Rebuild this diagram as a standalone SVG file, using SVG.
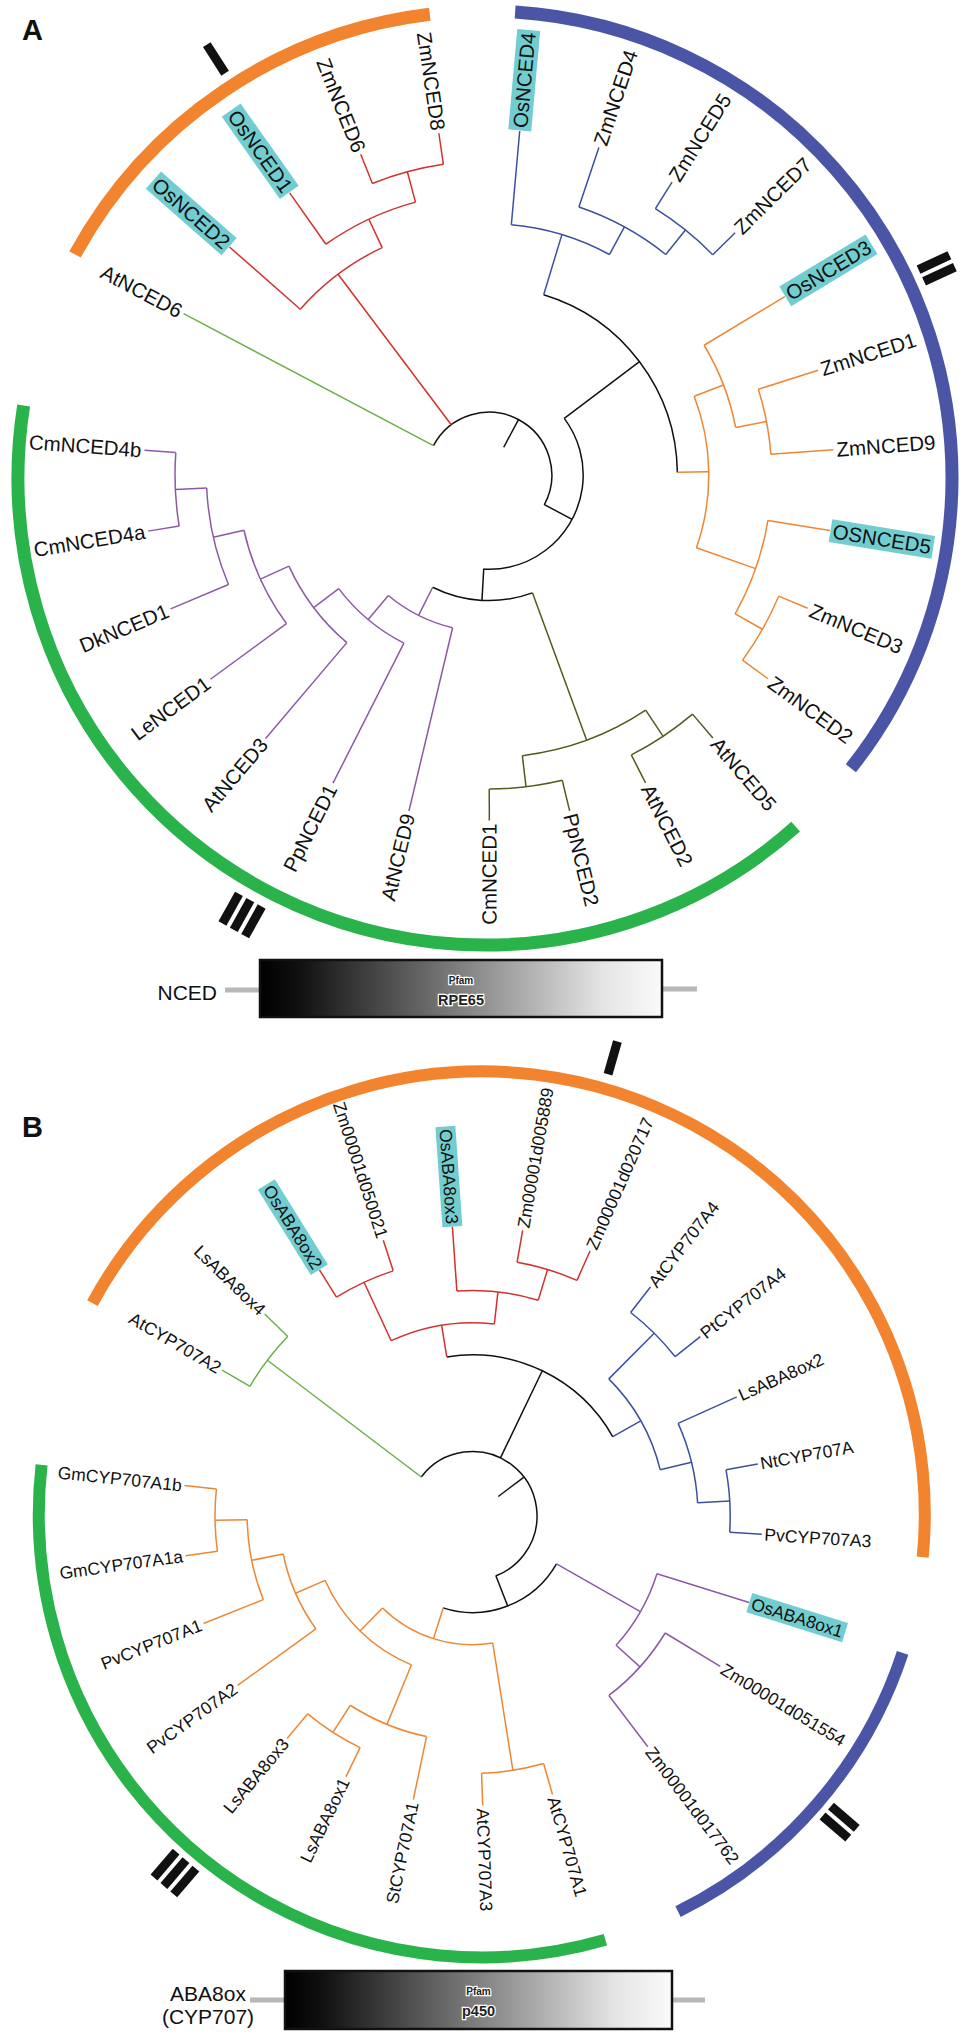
<svg xmlns="http://www.w3.org/2000/svg" width="965" height="2037" viewBox="0 0 965 2037">
<style>
.br{fill:none;stroke-width:1.5;stroke-linecap:butt}
.k{stroke:#111}.r{stroke:#d2312d}.b{stroke:#3d4f9f}.o{stroke:#ef8633}.ol{stroke:#57581f}.p{stroke:#8b5aa6}.g{stroke:#6bb04a}
.la{font-family:'Liberation Sans',Arial,sans-serif;font-size:20.5px;fill:#111}
.lb{font-family:'Liberation Sans',Arial,sans-serif;font-size:17.5px;fill:#111}
.e{text-anchor:end}
.hl{fill:#72cdd0}
.barA{fill:none;stroke-width:13}.barB{fill:none;stroke-width:12}
.mk{fill:#111}
.pl{font-family:'Liberation Sans',Arial,sans-serif;font-weight:bold;font-size:29px;fill:#111}
.dom{font-family:'Liberation Sans',Arial,sans-serif;font-size:21px;fill:#111}
.pf{font-family:'Liberation Sans',Arial,sans-serif;font-weight:bold;fill:#222;stroke:#fff;stroke-width:2.5;paint-order:stroke;text-anchor:middle}
.gl{stroke:#b8b8b8;stroke-width:5}
</style>
<defs>
<linearGradient id="gd" x1="0" x2="1" y1="0" y2="0">
<stop offset="0" stop-color="#000"/><stop offset="0.1" stop-color="#111"/><stop offset="0.5" stop-color="#808080"/><stop offset="0.85" stop-color="#e4e4e4"/><stop offset="1" stop-color="#fafafa"/>
</linearGradient>
</defs>
<rect width="965" height="2037" fill="#fff"/>

<text class="pl" x="22" y="40">A</text>
<text class="pl" x="22" y="1137">B</text>

<!-- Panel A clade bars -->
<g id="barsA" transform="translate(485 478)">
<circle class="barA" stroke="#f2842f" r="467" transform="rotate(208.6)" stroke-dasharray="445.03 4000"/>
<circle class="barA" stroke="#4b55a6" r="467" transform="rotate(-86.3)" stroke-dasharray="1016.39 4000"/>
<circle class="barA" stroke="#2ab24b" r="467" transform="rotate(48.3)" stroke-dasharray="1145.99 4000"/>
<g transform="rotate(-122.7)"><rect class="mk" x="481" y="-4.5" width="34" height="9"/></g>
<g transform="rotate(-24.9)"><rect class="mk" x="481" y="-11" width="34" height="9"/><rect class="mk" x="481" y="2" width="34" height="9"/></g>
<g transform="rotate(119.07)"><rect class="mk" x="483" y="-17.5" width="34" height="9"/><rect class="mk" x="483" y="-4.5" width="34" height="9"/><rect class="mk" x="483" y="8.5" width="34" height="9"/></g>
</g>

<!-- Panel A tree -->
<g id="connectorsA" transform="translate(489 475)">
<line class="br k" transform="rotate(-62.02)" x1="31.4" x2="62.8"/>
<line class="br k" transform="rotate(28.115)" x1="62.8" x2="94.2"/>
<line class="br k" transform="rotate(-36.98)" x1="94.2" x2="188.4"/>
<line class="br k" transform="rotate(93.21)" x1="94.2" x2="125.6"/>
<circle class="br k" r="62.8" transform="rotate(-152.15)" stroke-dasharray="197.58 3000"/>
<circle class="br k" r="94.2" transform="rotate(-36.98)" stroke-dasharray="214.05 3000"/>
<circle class="br k" r="188.4" transform="rotate(-73.13)" stroke-dasharray="237.72 3000"/>
<circle class="br k" r="125.6" transform="rotate(69.775)" stroke-dasharray="102.73 3000"/>
<line class="br g" transform="rotate(-152.15)" x1="62.8" x2="345.4"/>
<line class="br r" transform="rotate(-126.93)" x1="62.8" x2="251.2"/>
<line class="br r" transform="rotate(-138.7)" x1="251.2" x2="345.4"/>
<line class="br r" transform="rotate(-115.16)" x1="251.2" x2="282.6"/>
<line class="br r" transform="rotate(-125.25)" x1="282.6" x2="345.4"/>
<line class="br r" transform="rotate(-105.075)" x1="282.6" x2="314"/>
<line class="br r" transform="rotate(-111.8)" x1="314" x2="345.4"/>
<line class="br r" transform="rotate(-98.35)" x1="314" x2="345.4"/>
<circle class="br r" r="251.2" transform="rotate(-138.7)" stroke-dasharray="103.21 3000"/>
<circle class="br r" r="282.6" transform="rotate(-125.25)" stroke-dasharray="99.51 3000"/>
<circle class="br r" r="314" transform="rotate(-111.8)" stroke-dasharray="73.71 3000"/>
<line class="br b" transform="rotate(-73.13)" x1="188.4" x2="251.2"/>
<line class="br b" transform="rotate(-84.9)" x1="251.2" x2="345.4"/>
<line class="br b" transform="rotate(-61.36)" x1="251.2" x2="282.6"/>
<line class="br b" transform="rotate(-71.45)" x1="282.6" x2="345.4"/>
<line class="br b" transform="rotate(-51.275)" x1="282.6" x2="314"/>
<line class="br b" transform="rotate(-58)" x1="314" x2="345.4"/>
<line class="br b" transform="rotate(-44.55)" x1="314" x2="345.4"/>
<circle class="br b" r="251.2" transform="rotate(-84.9)" stroke-dasharray="103.21 3000"/>
<circle class="br b" r="282.6" transform="rotate(-71.45)" stroke-dasharray="99.51 3000"/>
<circle class="br b" r="314" transform="rotate(-58)" stroke-dasharray="73.71 3000"/>
<line class="br o" transform="rotate(-0.835)" x1="188.4" x2="219.8"/>
<line class="br o" transform="rotate(-21.01)" x1="219.8" x2="251.2"/>
<line class="br o" transform="rotate(-31.1)" x1="251.2" x2="345.4"/>
<line class="br o" transform="rotate(-10.925)" x1="251.2" x2="282.6"/>
<line class="br o" transform="rotate(-17.65)" x1="282.6" x2="345.4"/>
<line class="br o" transform="rotate(-4.2)" x1="282.6" x2="345.4"/>
<line class="br o" transform="rotate(19.34)" x1="219.8" x2="282.6"/>
<line class="br o" transform="rotate(9.25)" x1="282.6" x2="345.4"/>
<line class="br o" transform="rotate(29.425)" x1="282.6" x2="314"/>
<line class="br o" transform="rotate(22.7)" x1="314" x2="345.4"/>
<line class="br o" transform="rotate(36.15)" x1="314" x2="345.4"/>
<circle class="br o" r="219.8" transform="rotate(-21.01)" stroke-dasharray="154.79 3000"/>
<circle class="br o" r="251.2" transform="rotate(-31.1)" stroke-dasharray="88.45 3000"/>
<circle class="br o" r="282.6" transform="rotate(-17.65)" stroke-dasharray="66.34 3000"/>
<circle class="br o" r="282.6" transform="rotate(9.25)" stroke-dasharray="99.51 3000"/>
<circle class="br o" r="314" transform="rotate(22.7)" stroke-dasharray="73.71 3000"/>
<line class="br ol" transform="rotate(69.775)" x1="125.6" x2="282.6"/>
<line class="br ol" transform="rotate(56.325)" x1="282.6" x2="314"/>
<line class="br ol" transform="rotate(49.6)" x1="314" x2="345.4"/>
<line class="br ol" transform="rotate(63.05)" x1="314" x2="345.4"/>
<line class="br ol" transform="rotate(83.225)" x1="282.6" x2="314"/>
<line class="br ol" transform="rotate(76.5)" x1="314" x2="345.4"/>
<line class="br ol" transform="rotate(89.95)" x1="314" x2="345.4"/>
<circle class="br ol" r="282.6" transform="rotate(56.325)" stroke-dasharray="132.68 3000"/>
<circle class="br ol" r="314" transform="rotate(76.5)" stroke-dasharray="73.71 3000"/>
<circle class="br ol" r="314" transform="rotate(49.6)" stroke-dasharray="73.71 3000"/>
<line class="br p" transform="rotate(116.64)" x1="125.6" x2="157"/>
<line class="br p" transform="rotate(103.4)" x1="157" x2="345.4"/>
<line class="br p" transform="rotate(129.88)" x1="157" x2="188.4"/>
<line class="br p" transform="rotate(116.85)" x1="188.4" x2="345.4"/>
<line class="br p" transform="rotate(142.91)" x1="188.4" x2="219.8"/>
<line class="br p" transform="rotate(130.3)" x1="219.8" x2="345.4"/>
<line class="br p" transform="rotate(155.52)" x1="219.8" x2="251.2"/>
<line class="br p" transform="rotate(143.75)" x1="251.2" x2="345.4"/>
<line class="br p" transform="rotate(167.29)" x1="251.2" x2="282.6"/>
<line class="br p" transform="rotate(157.2)" x1="282.6" x2="345.4"/>
<line class="br p" transform="rotate(177.375)" x1="282.6" x2="314"/>
<line class="br p" transform="rotate(170.65)" x1="314" x2="345.4"/>
<line class="br p" transform="rotate(184.1)" x1="314" x2="345.4"/>
<circle class="br p" r="157" transform="rotate(103.4)" stroke-dasharray="72.56 3000"/>
<circle class="br p" r="188.4" transform="rotate(116.85)" stroke-dasharray="85.69 3000"/>
<circle class="br p" r="219.8" transform="rotate(130.3)" stroke-dasharray="96.75 3000"/>
<circle class="br p" r="251.2" transform="rotate(143.75)" stroke-dasharray="103.21 3000"/>
<circle class="br p" r="282.6" transform="rotate(157.2)" stroke-dasharray="99.51 3000"/>
<circle class="br p" r="314" transform="rotate(170.65)" stroke-dasharray="73.71 3000"/>
</g>

<g id="leavesA" transform="translate(489 475)">
<g id="AtNCED6" transform="rotate(207.85) translate(348.5 0) rotate(180)"><text class="la e" y="7.2">AtNCED6</text></g>
<g id="OsNCED2" transform="rotate(-138.7) translate(348.5 0) rotate(180)"><rect class="hl" x="-98.2" y="-11.5" width="100.7" height="23"/><text class="la e" y="7.2">OsNCED2</text></g>
<g id="OsNCED1" transform="rotate(-125.25) translate(348.5 0) rotate(180)"><rect class="hl" x="-98.2" y="-11.5" width="100.7" height="23"/><text class="la e" y="7.2">OsNCED1</text></g>
<g id="ZmNCED6" transform="rotate(-111.8) translate(348.5 0) rotate(180)"><text class="la e" y="7.2">ZmNCED6</text></g>
<g id="ZmNCED8" transform="rotate(-98.35) translate(348.5 0) rotate(180)"><text class="la e" y="7.2">ZmNCED8</text></g>
<g id="OsNCED4" transform="rotate(-84.9) translate(348.5 0)"><rect class="hl" x="-2.5" y="-11.5" width="100.7" height="23"/><text class="la" y="7.2">OsNCED4</text></g>
<g id="ZmNCED4" transform="rotate(-71.45) translate(348.5 0)"><text class="la" y="7.2">ZmNCED4</text></g>
<g id="ZmNCED5" transform="rotate(-58) translate(348.5 0)"><text class="la" y="7.2">ZmNCED5</text></g>
<g id="ZmNCED7" transform="rotate(-44.55) translate(348.5 0)"><text class="la" y="7.2">ZmNCED7</text></g>
<g id="OsNCED3" transform="rotate(-31.1) translate(348.5 0)"><rect class="hl" x="-2.5" y="-11.5" width="100.7" height="23"/><text class="la" y="7.2">OsNCED3</text></g>
<g id="ZmNCED1" transform="rotate(-17.65) translate(348.5 0)"><text class="la" y="7.2">ZmNCED1</text></g>
<g id="ZmNCED9" transform="rotate(-4.2) translate(348.5 0)"><text class="la" y="7.2">ZmNCED9</text></g>
<g id="OSNCED5" transform="rotate(9.25) translate(348.5 0)"><rect class="hl" x="-2.5" y="-11.5" width="104.1" height="23"/><text class="la" y="7.2">OSNCED5</text></g>
<g id="ZmNCED3" transform="rotate(22.7) translate(348.5 0)"><text class="la" y="7.2">ZmNCED3</text></g>
<g id="ZmNCED2" transform="rotate(36.15) translate(348.5 0)"><text class="la" y="7.2">ZmNCED2</text></g>
<g id="AtNCED5" transform="rotate(49.6) translate(348.5 0)"><text class="la" y="7.2">AtNCED5</text></g>
<g id="AtNCED2" transform="rotate(63.05) translate(348.5 0)"><text class="la" y="7.2">AtNCED2</text></g>
<g id="PpNCED2" transform="rotate(76.5) translate(348.5 0)"><text class="la" y="7.2">PpNCED2</text></g>
<g id="CmNCED1" transform="rotate(89.95) translate(348.5 0) rotate(180)"><text class="la e" y="7.2">CmNCED1</text></g>
<g id="AtNCED9" transform="rotate(103.4) translate(348.5 0) rotate(180)"><text class="la e" y="7.2">AtNCED9</text></g>
<g id="PpNCED1" transform="rotate(116.85) translate(348.5 0) rotate(180)"><text class="la e" y="7.2">PpNCED1</text></g>
<g id="AtNCED3" transform="rotate(130.3) translate(348.5 0) rotate(180)"><text class="la e" y="7.2">AtNCED3</text></g>
<g id="LeNCED1" transform="rotate(143.75) translate(348.5 0) rotate(180)"><text class="la e" y="7.2">LeNCED1</text></g>
<g id="DkNCED1" transform="rotate(157.2) translate(348.5 0) rotate(180)"><text class="la e" y="7.2">DkNCED1</text></g>
<g id="CmNCED4a" transform="rotate(170.65) translate(348.5 0) rotate(180)"><text class="la e" y="7.2">CmNCED4a</text></g>
<g id="CmNCED4b" transform="rotate(184.1) translate(348.5 0) rotate(180)"><text class="la e" y="7.2">CmNCED4b</text></g>
</g>

<!-- Domain A -->
<g id="domainA">
<line class="gl" x1="225" y1="990" x2="261" y2="990"/>
<line class="gl" x1="662" y1="989" x2="697" y2="989"/>
<rect x="260" y="960" width="402" height="57" fill="url(#gd)" stroke="#111" stroke-width="2.5"/>
<text class="pf" x="461" y="984" font-size="10">Pfam</text>
<text class="pf" x="461" y="1005" font-size="14.5">RPE65</text>
<text class="dom e" x="217" y="1000">NCED</text>
</g>

<!-- Panel B clade bars -->
<g id="barsB" transform="translate(481.8 1514.4)">
<circle class="barB" stroke="#f2842f" r="443" transform="rotate(208.5)" stroke-dasharray="1213.9 4000"/>
<circle class="barB" stroke="#4b55a6" r="443" transform="rotate(18.2)" stroke-dasharray="351.8 4000"/>
<circle class="barB" stroke="#2ab24b" r="443" transform="rotate(73.8)" stroke-dasharray="870.6 4000"/>
<g transform="rotate(-74)"><rect class="mk" x="458" y="-4.5" width="34" height="9"/></g>
<g transform="rotate(40.7)"><rect class="mk" x="455" y="-11" width="34" height="9"/><rect class="mk" x="455" y="2" width="34" height="9"/></g>
<g transform="rotate(130.55)"><rect class="mk" x="455" y="-17.5" width="34" height="9"/><rect class="mk" x="455" y="-4.5" width="34" height="9"/><rect class="mk" x="455" y="8.5" width="34" height="9"/></g>
</g>

<!-- Panel B tree -->
<g id="connectorsB" transform="translate(472.6 1515.9)">
<line class="br k" transform="rotate(-37.06)" x1="32.2" x2="64.4"/>
<line class="br k" transform="rotate(-64.355)" x1="64.4" x2="161"/>
<line class="br k" transform="rotate(68.705)" x1="64.4" x2="96.6"/>
<circle class="br k" r="64.4" transform="rotate(-142.825)" stroke-dasharray="237.76 3000"/>
<circle class="br k" r="161" transform="rotate(-99.23)" stroke-dasharray="196 3000"/>
<circle class="br k" r="96.6" transform="rotate(29.725)" stroke-dasharray="131.44 3000"/>
<line class="br g" transform="rotate(-142.825)" x1="64.4" x2="257.6"/>
<line class="br g" transform="rotate(-149.8)" x1="257.6" x2="289.8"/>
<line class="br g" transform="rotate(-135.85)" x1="257.6" x2="289.8"/>
<circle class="br g" r="257.6" transform="rotate(-149.8)" stroke-dasharray="62.72 3000"/>
<line class="br r" transform="rotate(-99.23)" x1="161" x2="193.2"/>
<line class="br r" transform="rotate(-114.925)" x1="193.2" x2="257.6"/>
<line class="br r" transform="rotate(-121.9)" x1="257.6" x2="289.8"/>
<line class="br r" transform="rotate(-107.95)" x1="257.6" x2="289.8"/>
<line class="br r" transform="rotate(-83.54)" x1="193.2" x2="225.4"/>
<line class="br r" transform="rotate(-94)" x1="225.4" x2="289.8"/>
<line class="br r" transform="rotate(-73.075)" x1="225.4" x2="257.6"/>
<line class="br r" transform="rotate(-80.05)" x1="257.6" x2="289.8"/>
<line class="br r" transform="rotate(-66.1)" x1="257.6" x2="289.8"/>
<circle class="br r" r="193.2" transform="rotate(-114.925)" stroke-dasharray="105.83 3000"/>
<circle class="br r" r="257.6" transform="rotate(-121.9)" stroke-dasharray="62.72 3000"/>
<circle class="br r" r="225.4" transform="rotate(-94)" stroke-dasharray="82.32 3000"/>
<circle class="br r" r="257.6" transform="rotate(-80.05)" stroke-dasharray="62.72 3000"/>
<line class="br b" transform="rotate(-29.48)" x1="161" x2="193.2"/>
<line class="br b" transform="rotate(-45.175)" x1="193.2" x2="257.6"/>
<line class="br b" transform="rotate(-52.15)" x1="257.6" x2="289.8"/>
<line class="br b" transform="rotate(-38.2)" x1="257.6" x2="289.8"/>
<line class="br b" transform="rotate(-13.79)" x1="193.2" x2="225.4"/>
<line class="br b" transform="rotate(-24.25)" x1="225.4" x2="289.8"/>
<line class="br b" transform="rotate(-3.325)" x1="225.4" x2="257.6"/>
<line class="br b" transform="rotate(-10.3)" x1="257.6" x2="289.8"/>
<line class="br b" transform="rotate(3.65)" x1="257.6" x2="289.8"/>
<circle class="br b" r="193.2" transform="rotate(-45.175)" stroke-dasharray="105.83 3000"/>
<circle class="br b" r="257.6" transform="rotate(-52.15)" stroke-dasharray="62.72 3000"/>
<circle class="br b" r="225.4" transform="rotate(-24.25)" stroke-dasharray="82.32 3000"/>
<circle class="br b" r="257.6" transform="rotate(-10.3)" stroke-dasharray="62.72 3000"/>
<line class="br p" transform="rotate(29.725)" x1="96.6" x2="193.2"/>
<line class="br p" transform="rotate(17.4)" x1="193.2" x2="289.8"/>
<line class="br p" transform="rotate(42.05)" x1="193.2" x2="225.4"/>
<line class="br p" transform="rotate(31.3)" x1="225.4" x2="289.8"/>
<line class="br p" transform="rotate(52.8)" x1="225.4" x2="289.8"/>
<circle class="br p" r="193.2" transform="rotate(17.4)" stroke-dasharray="83.12 3000"/>
<circle class="br p" r="225.4" transform="rotate(31.3)" stroke-dasharray="84.58 3000"/>
<line class="br o" transform="rotate(107.685)" x1="96.6" x2="128.8"/>
<line class="br o" transform="rotate(81)" x1="128.8" x2="257.6"/>
<line class="br o" transform="rotate(74)" x1="257.6" x2="289.8"/>
<line class="br o" transform="rotate(88)" x1="257.6" x2="289.8"/>
<line class="br o" transform="rotate(134.37)" x1="128.8" x2="161"/>
<line class="br o" transform="rotate(112.325)" x1="161" x2="225.4"/>
<line class="br o" transform="rotate(101.8)" x1="225.4" x2="289.8"/>
<line class="br o" transform="rotate(122.85)" x1="225.4" x2="257.6"/>
<line class="br o" transform="rotate(115.9)" x1="257.6" x2="289.8"/>
<line class="br o" transform="rotate(129.8)" x1="257.6" x2="289.8"/>
<line class="br o" transform="rotate(156.41)" x1="161" x2="193.2"/>
<line class="br o" transform="rotate(144.2)" x1="193.2" x2="289.8"/>
<line class="br o" transform="rotate(168.625)" x1="193.2" x2="225.4"/>
<line class="br o" transform="rotate(158.2)" x1="225.4" x2="289.8"/>
<line class="br o" transform="rotate(179.05)" x1="225.4" x2="257.6"/>
<line class="br o" transform="rotate(172.1)" x1="257.6" x2="289.8"/>
<line class="br o" transform="rotate(186)" x1="257.6" x2="289.8"/>
<circle class="br o" r="128.8" transform="rotate(81)" stroke-dasharray="119.97 3000"/>
<circle class="br o" r="257.6" transform="rotate(74)" stroke-dasharray="62.94 3000"/>
<circle class="br o" r="161" transform="rotate(112.325)" stroke-dasharray="123.88 3000"/>
<circle class="br o" r="225.4" transform="rotate(101.8)" stroke-dasharray="82.81 3000"/>
<circle class="br o" r="257.6" transform="rotate(115.9)" stroke-dasharray="62.49 3000"/>
<circle class="br o" r="193.2" transform="rotate(144.2)" stroke-dasharray="82.36 3000"/>
<circle class="br o" r="225.4" transform="rotate(158.2)" stroke-dasharray="82.02 3000"/>
<circle class="br o" r="257.6" transform="rotate(172.1)" stroke-dasharray="62.49 3000"/>
</g>

<g id="leavesB" transform="translate(472.6 1515.9)">
<g id="AtCYP707A2" transform="rotate(210.2) translate(292.5 0) rotate(180)"><text class="lb e" y="6.1">AtCYP707A2</text></g>
<g id="LsABA8ox4" transform="rotate(-135.85) translate(292.5 0) rotate(180)"><text class="lb e" y="6.1">LsABA8ox4</text></g>
<g id="OsABA8ox2" transform="rotate(-121.9) translate(292.5 0) rotate(180)"><rect class="hl" x="-97.8" y="-10" width="100.3" height="20"/><text class="lb e" y="6.1">OsABA8ox2</text></g>
<g id="Zm00001d050021" transform="rotate(-107.95) translate(292.5 0) rotate(180)"><text class="lb e" y="6.1">Zm00001d050021</text></g>
<g id="OsABA8ox3" transform="rotate(-94) translate(292.5 0) rotate(180)"><rect class="hl" x="-97.8" y="-10" width="100.3" height="20"/><text class="lb e" y="6.1">OsABA8ox3</text></g>
<g id="Zm00001d005889" transform="rotate(-80.05) translate(292.5 0)"><text class="lb" y="6.1">Zm00001d005889</text></g>
<g id="Zm00001d020717" transform="rotate(-66.1) translate(292.5 0)"><text class="lb" y="6.1">Zm00001d020717</text></g>
<g id="AtCYP707A4" transform="rotate(-52.15) translate(292.5 0)"><text class="lb" y="6.1">AtCYP707A4</text></g>
<g id="PtCYP707A4" transform="rotate(-38.2) translate(292.5 0)"><text class="lb" y="6.1">PtCYP707A4</text></g>
<g id="LsABA8ox2" transform="rotate(-24.25) translate(292.5 0)"><text class="lb" y="6.1">LsABA8ox2</text></g>
<g id="NtCYP707A" transform="rotate(-10.3) translate(292.5 0)"><text class="lb" y="6.1">NtCYP707A</text></g>
<g id="PvCYP707A3" transform="rotate(3.65) translate(292.5 0)"><text class="lb" y="6.1">PvCYP707A3</text></g>
<g id="OsABA8ox1" transform="rotate(17.4) translate(292.5 0)"><rect class="hl" x="-2.5" y="-10" width="100.3" height="20"/><text class="lb" y="6.1">OsABA8ox1</text></g>
<g id="Zm00001d051554" transform="rotate(31.3) translate(292.5 0)"><text class="lb" y="6.1">Zm00001d051554</text></g>
<g id="Zm00001d017762" transform="rotate(52.8) translate(292.5 0)"><text class="lb" y="6.1">Zm00001d017762</text></g>
<g id="AtCYP707A1" transform="rotate(74) translate(292.5 0)"><text class="lb" y="6.1">AtCYP707A1</text></g>
<g id="AtCYP707A3" transform="rotate(88) translate(292.5 0)"><text class="lb" y="6.1">AtCYP707A3</text></g>
<g id="StCYP707A1" transform="rotate(101.8) translate(292.5 0) rotate(180)"><text class="lb e" y="6.1">StCYP707A1</text></g>
<g id="LsABA8ox1" transform="rotate(115.9) translate(292.5 0) rotate(180)"><text class="lb e" y="6.1">LsABA8ox1</text></g>
<g id="LsABA8ox3" transform="rotate(129.8) translate(292.5 0) rotate(180)"><text class="lb e" y="6.1">LsABA8ox3</text></g>
<g id="PvCYP707A2" transform="rotate(144.2) translate(292.5 0) rotate(180)"><text class="lb e" y="6.1">PvCYP707A2</text></g>
<g id="PvCYP707A1" transform="rotate(158.2) translate(292.5 0) rotate(180)"><text class="lb e" y="6.1">PvCYP707A1</text></g>
<g id="GmCYP707A1a" transform="rotate(172.1) translate(292.5 0) rotate(180)"><text class="lb e" y="6.1">GmCYP707A1a</text></g>
<g id="GmCYP707A1b" transform="rotate(186) translate(292.5 0) rotate(180)"><text class="lb e" y="6.1">GmCYP707A1b</text></g>
</g>

<!-- Domain B -->
<g id="domainB">
<line class="gl" x1="250" y1="2000" x2="286" y2="2000"/>
<line class="gl" x1="672" y1="2000" x2="705" y2="2000"/>
<rect x="285" y="1971" width="387" height="58" fill="url(#gd)" stroke="#111" stroke-width="2.5"/>
<text class="pf" x="478.5" y="1995" font-size="10">Pfam</text>
<text class="pf" x="478.5" y="2016" font-size="14.5">p450</text>
<text class="dom" x="208" y="2001" text-anchor="middle" font-size="20.5">ABA8ox</text>
<text class="dom" x="208" y="2024" text-anchor="middle" font-size="20.5">(CYP707)</text>
</g>
</svg>
